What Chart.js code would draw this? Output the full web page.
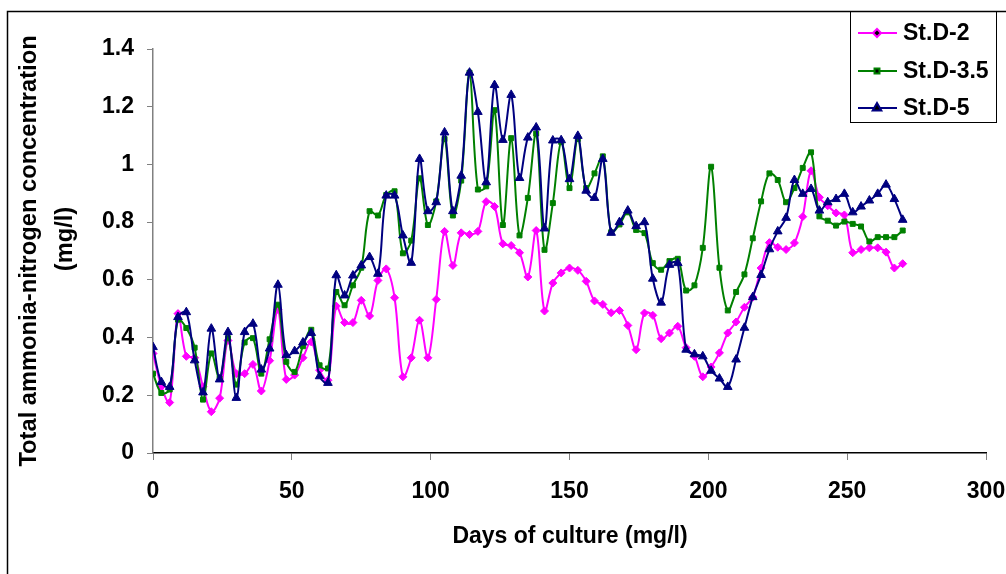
<!DOCTYPE html>
<html>
<head>
<meta charset="utf-8">
<script src="https://cdn.jsdelivr.net/npm/chart.js@4.4.0/dist/chart.umd.min.js"></script>
<style>
  html, body { margin: 0; padding: 0; background: #fff; }
  #wrap { width: 1006px; height: 574px; position: relative; }
</style>
</head>
<body>
<div id="wrap"><canvas id="myChart" width="1006" height="574"></canvas></div>
<script>
const days = [0, 3, 6, 9, 12, 15, 18, 21, 24, 27, 30, 33, 36, 39, 42, 45, 48, 51, 54, 57,
  60, 63, 66, 69, 72, 75, 78, 81, 84, 87, 90, 93, 96, 99, 102, 105, 108, 111, 114, 117,
  120, 123, 126, 129, 132, 135, 138, 141, 144, 147, 150, 153, 156, 159, 162, 165, 168, 171, 174, 177,
  180, 183, 186, 189, 192, 195, 198, 201, 204, 207, 210, 213, 216, 219, 222, 225, 228, 231, 234, 237,
  240, 243, 246, 249, 252, 255, 258, 261, 264, 267, 270];

const stD2 = [0.345, 0.23, 0.175, 0.483, 0.335, 0.33, 0.23, 0.143, 0.19, 0.39, 0.275, 0.275, 0.307, 0.215, 0.32, 0.497, 0.255, 0.27, 0.33, 0.385,
  0.287, 0.252, 0.509, 0.452, 0.452, 0.529, 0.475, 0.598, 0.638, 0.538, 0.264, 0.33, 0.46, 0.33, 0.532, 0.768, 0.65, 0.763, 0.757, 0.768,
  0.871, 0.854, 0.725, 0.719, 0.694, 0.61, 0.771, 0.492, 0.589, 0.624, 0.641, 0.633, 0.595, 0.527, 0.515, 0.486, 0.494, 0.442, 0.358, 0.485,
  0.477, 0.396, 0.416, 0.439, 0.365, 0.335, 0.264, 0.298, 0.347, 0.416, 0.454, 0.505, 0.54, 0.641, 0.729, 0.713, 0.705, 0.728, 0.819, 0.978,
  0.886, 0.857, 0.832, 0.825, 0.694, 0.705, 0.711, 0.711, 0.696, 0.641, 0.656];

const stD35 = [0.275, 0.208, 0.22, 0.462, 0.433, 0.365, 0.185, 0.345, 0.258, 0.398, 0.237, 0.383, 0.398, 0.275, 0.394, 0.514, 0.316, 0.281, 0.37, 0.427,
  0.304, 0.293, 0.558, 0.512, 0.581, 0.642, 0.838, 0.823, 0.894, 0.907, 0.692, 0.736, 0.952, 0.79, 0.872, 1.088, 0.823, 0.944, 1.318, 0.913,
  0.924, 1.188, 0.79, 1.091, 0.754, 0.884, 1.107, 0.704, 0.866, 1.078, 0.918, 1.088, 0.918, 0.969, 1.028, 0.765, 0.792, 0.834, 0.773, 0.762,
  0.658, 0.635, 0.665, 0.673, 0.563, 0.581, 0.711, 0.992, 0.642, 0.494, 0.558, 0.619, 0.744, 0.872, 0.969, 0.946, 0.869, 0.918, 0.988, 1.042,
  0.82, 0.805, 0.788, 0.802, 0.794, 0.785, 0.733, 0.748, 0.748, 0.748, 0.771];

const stD5 = [0.367, 0.246, 0.229, 0.471, 0.488, 0.321, 0.21, 0.431, 0.255, 0.419, 0.191, 0.419, 0.448, 0.289, 0.362, 0.583, 0.339, 0.353, 0.383, 0.416,
  0.266, 0.243, 0.616, 0.546, 0.615, 0.65, 0.679, 0.621, 0.892, 0.892, 0.754, 0.659, 1.019, 0.838, 0.869, 1.111, 0.838, 0.961, 1.318, 1.182,
  0.938, 1.275, 1.085, 1.241, 0.953, 1.093, 1.128, 0.778, 1.083, 1.084, 0.949, 1.099, 0.909, 0.884, 1.019, 0.763, 0.8, 0.84, 0.786, 0.8,
  0.604, 0.521, 0.652, 0.658, 0.358, 0.342, 0.335, 0.285, 0.258, 0.229, 0.324, 0.434, 0.54, 0.617, 0.706, 0.768, 0.815, 0.946, 0.898, 0.915,
  0.84, 0.869, 0.88, 0.898, 0.834, 0.854, 0.875, 0.898, 0.93, 0.88, 0.808];

const seriesNames = ['St.D-2', 'St.D-3.5', 'St.D-5'];
const yTickLabels = ['0', '0.2', '0.4', '0.6', '0.8', '1', '1.2', '1.4'];
const xTitle = 'Days of culture (mg/l)';
const yTitle = ['Total ammonia-nitrogen concentration', '(mg/l)'];

const FONT = '"Liberation Sans", Arial, sans-serif';

const toPoints = (vals) => vals.map((v, i) => ({ x: days[i], y: v }));

const makeSet = (label, vals, color, style, radius, order) => ({
  label: label,
  data: toPoints(vals),
  borderColor: color,
  backgroundColor: color,
  pointBackgroundColor: color,
  pointBorderColor: color,
  pointStyle: style,
  pointRadius: radius,
  pointBorderWidth: 1,
  borderWidth: 2,
  tension: 0.35,
  order: order
});

// titles, legend and the outer frame are drawn here
const decorations = {
  id: 'decorations',
  afterDraw(chart) {
    const c = chart.ctx;
    c.save();
    c.strokeStyle = '#000';
    c.lineWidth = 1.5;
    c.beginPath();
    c.moveTo(7.5, 574);
    c.lineTo(7.5, 11.5);
    c.lineTo(1006, 11.5);
    c.stroke();

    c.fillStyle = '#000';
    c.textAlign = 'center';
    c.textBaseline = 'middle';
    c.font = 'bold 23px ' + FONT;
    c.fillText(xTitle, 570, 537);

    c.save();
    c.translate(29, 251);
    c.rotate(-Math.PI / 2);
    c.font = 'bold 23.7px ' + FONT;
    c.fillText(yTitle[0], 0, 0);
    c.fillText(yTitle[1], 12, 36);
    c.restore();

    // legend
    c.strokeStyle = '#000';
    c.lineWidth = 1;
    c.strokeRect(850.5, 11.5, 146, 111);
    c.textAlign = 'left';
    c.font = 'bold 23px ' + FONT;
    const rows = [33, 71, 108];
    chart.data.datasets.forEach((ds, i) => {
      const y = rows[i];
      c.strokeStyle = ds.borderColor;
      c.lineWidth = 2;
      c.beginPath();
      c.moveTo(858, y);
      c.lineTo(897, y);
      c.stroke();
      Chart.helpers.drawPoint(c, { pointStyle: ds.pointStyle, radius: ds.pointRadius, borderWidth: 1, rotation: 0 }, 877, y);
      c.fillStyle = '#000';
      c.fillText(ds.label, 903, y + 1);
    });
    c.restore();
  }
};

const ctx = document.getElementById('myChart');

const chart = new Chart(ctx, {
  type: 'line',
  data: {
    datasets: [
      makeSet(seriesNames[0], stD2, '#FF00FF', 'rectRot', 4, 3),
      makeSet(seriesNames[1], stD35, '#008000', 'rect', 3.5, 2),
      makeSet(seriesNames[2], stD5, '#000080', 'triangle', 5, 1)
    ]
  },
  options: {
    responsive: false,
    animation: false,
    devicePixelRatio: 1,
    layout: { padding: { left: 0, right: 20, top: 49, bottom: 0 } },
    plugins: {
      legend: { display: false },
      tooltip: { enabled: false }
    },
    scales: {
      x: {
        type: 'linear',
        min: 0,
        max: 300,
        afterFit: (s) => { s.height = 121; s.paddingLeft = 0; s.paddingRight = 0; },
        ticks: {
          stepSize: 50,
          color: '#000',
          padding: 18,
          maxRotation: 0,
          font: { family: FONT, size: 23, weight: 'bold' }
        },
        grid: { drawOnChartArea: false, tickLength: 7, color: '#808080' },
        border: { color: '#000', width: 1.5 }
      },
      y: {
        min: 0,
        max: 1.4,
        afterFit: (s) => { s.width = 153; s.paddingTop = 0; s.paddingBottom = 0; },
        ticks: {
          stepSize: 0.2,
          color: '#000',
          padding: 13,
          callback: (v, i) => yTickLabels[i],
          font: { family: FONT, size: 23, weight: 'bold' }
        },
        grid: { drawOnChartArea: false, tickLength: 6, color: '#808080' },
        border: { color: '#808080', width: 1.5 }
      }
    }
  },
  plugins: [decorations]
});
</script>
</body>
</html>
